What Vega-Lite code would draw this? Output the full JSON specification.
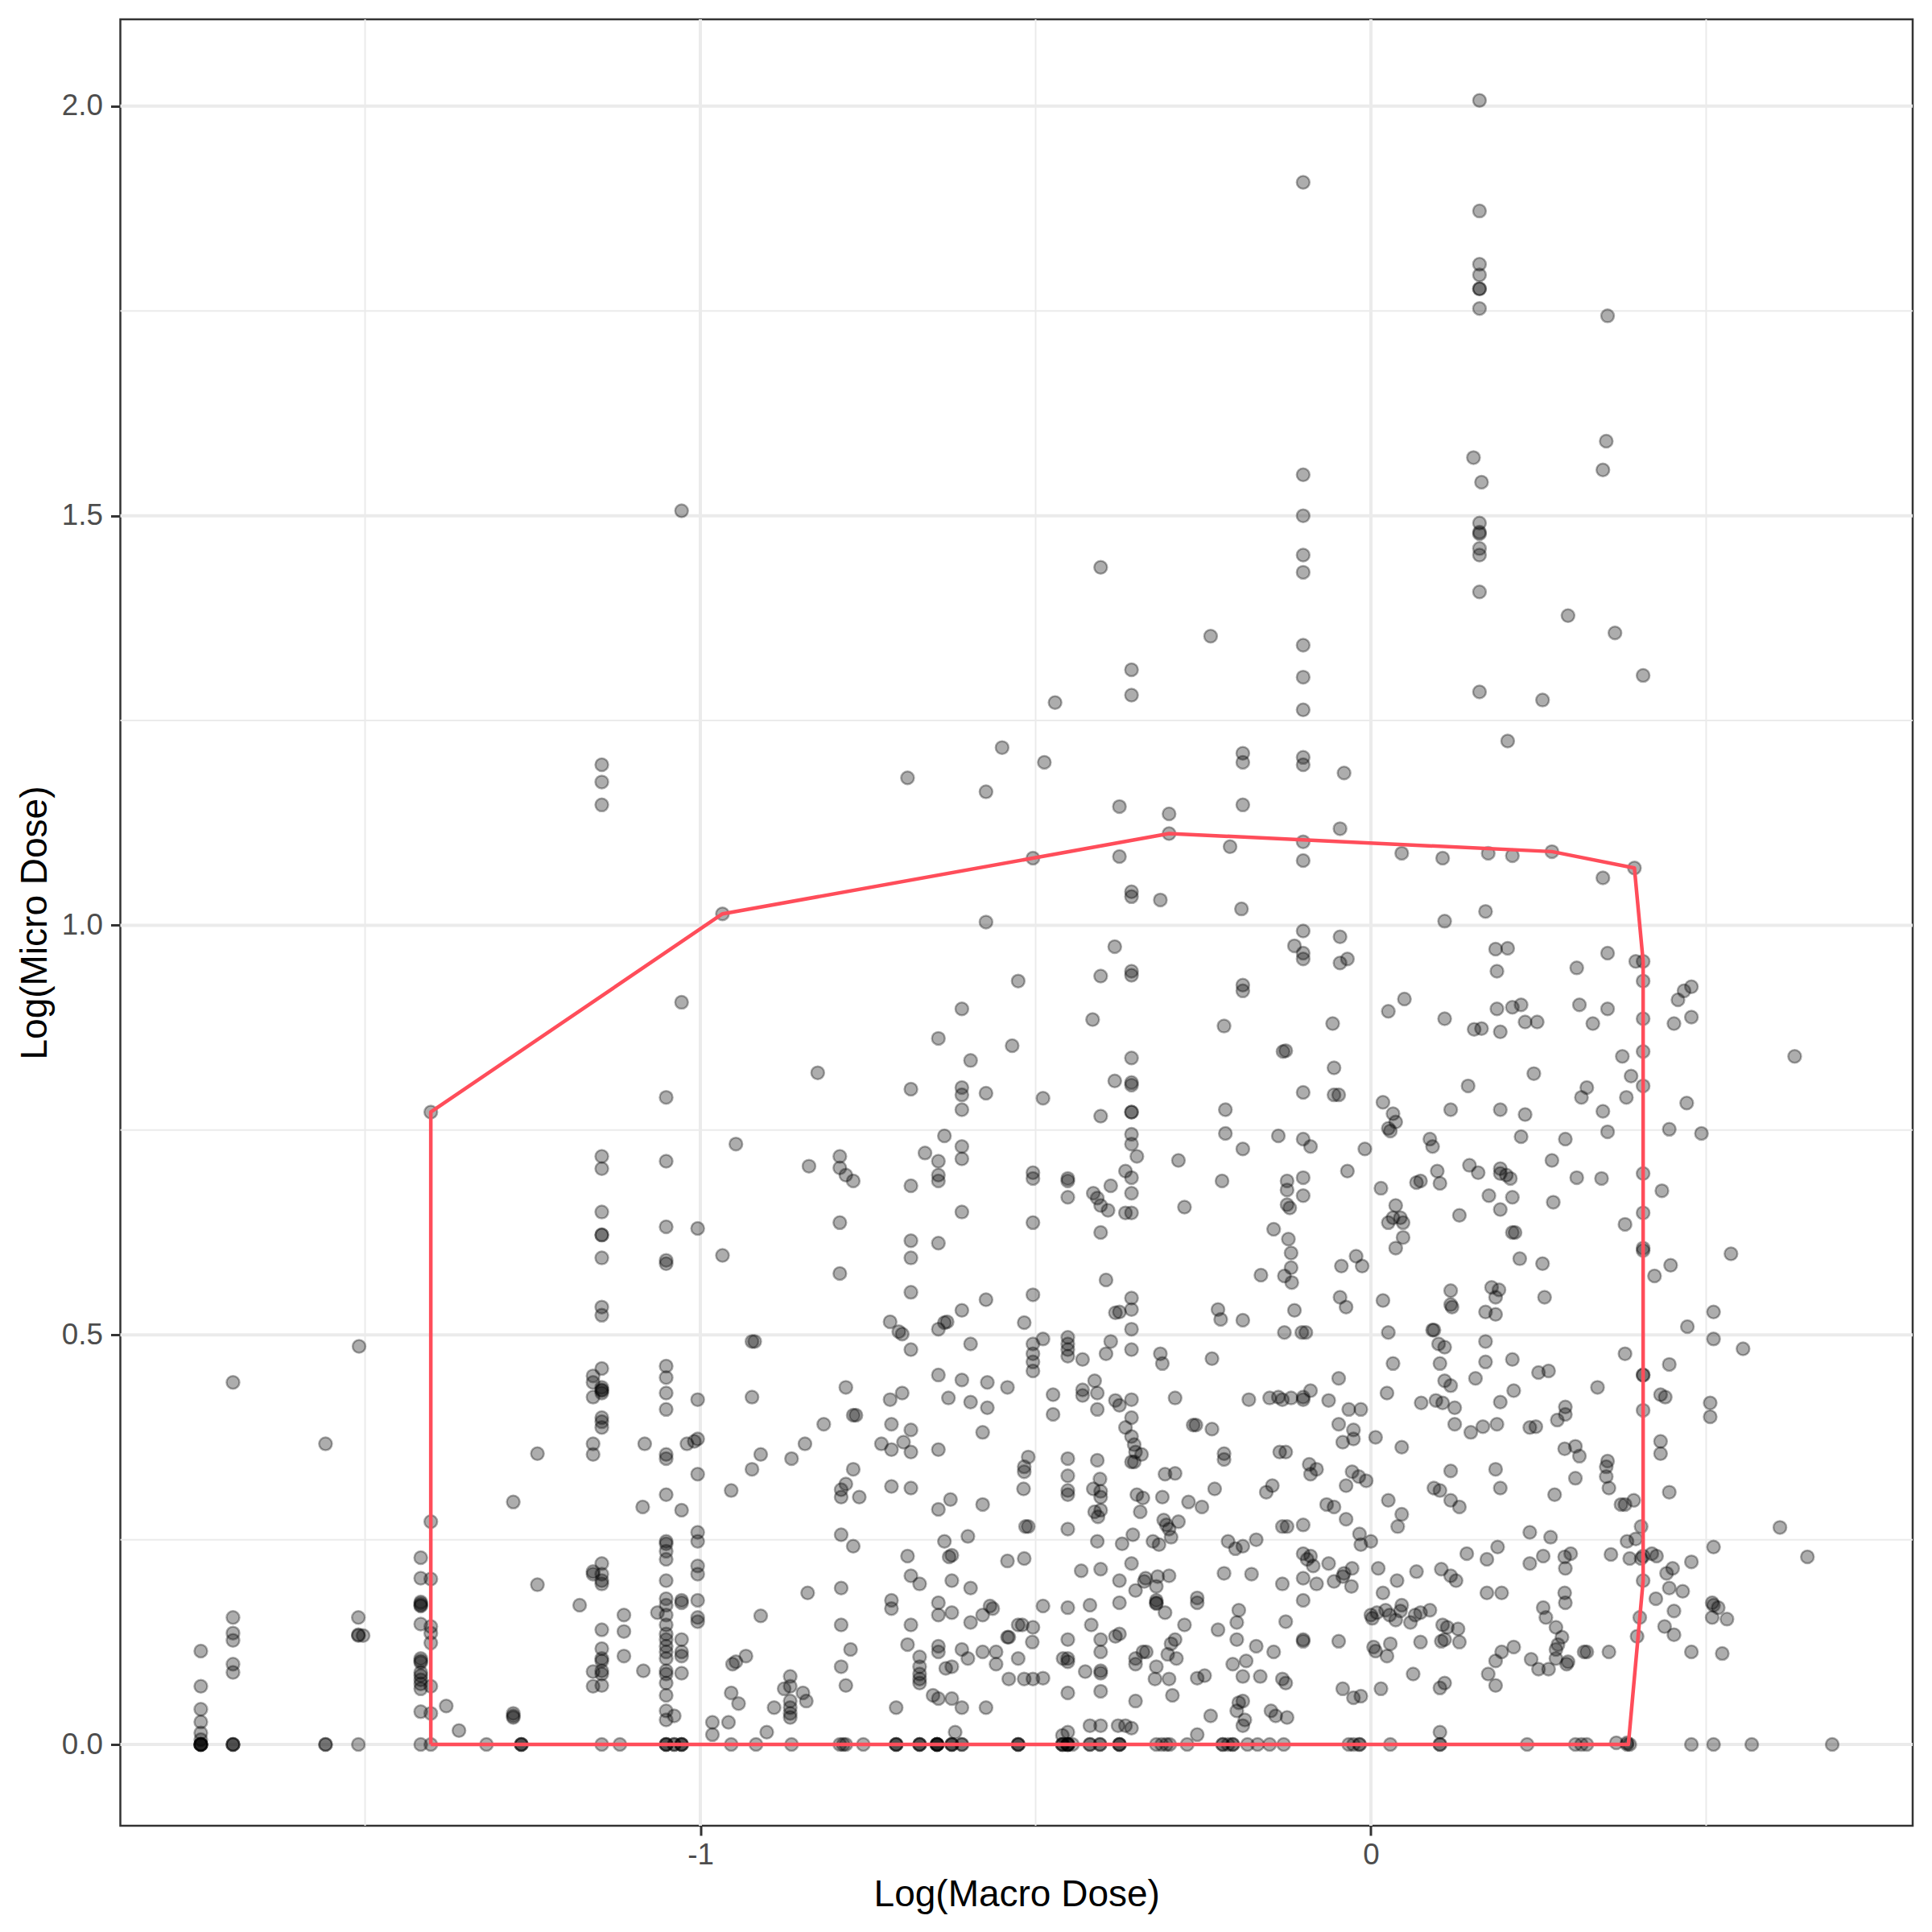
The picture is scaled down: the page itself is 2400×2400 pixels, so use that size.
{"$schema":"https://vega.github.io/schema/vega-lite/v6.json","autosize":"none","width":2226.5,"height":2244,"padding":{"left":149.5,"top":24,"right":24,"bottom":132},"background":"white","config":{"view":{"stroke":"#333333","strokeWidth":2.5},"font":"Liberation Sans"},
"datasets":{"gx":[{"v":-1.5,"k":"minor"},{"v":-1,"k":"major"},{"v":-0.5,"k":"minor"},{"v":0,"k":"major"},{"v":0.5,"k":"minor"}],
"gy":[{"v":0,"k":"major"},{"v":0.25,"k":"minor"},{"v":0.5,"k":"major"},{"v":0.75,"k":"minor"},{"v":1,"k":"major"},{"v":1.25,"k":"minor"},{"v":1.5,"k":"major"},{"v":1.75,"k":"minor"},{"v":2,"k":"major"}],
"hull":[{"x":-1.402,"y":0,"o":1},{"x":-1.402,"y":0.772,"o":2},{"x":-0.967,"y":1.014,"o":3},{"x":-0.504,"y":1.082,"o":4},{"x":-0.301,"y":1.112,"o":5},{"x":0.27,"y":1.09,"o":6},{"x":0.393,"y":1.07,"o":7},{"x":0.406,"y":0.956,"o":8},{"x":0.406,"y":0.2,"o":9},{"x":0.384,"y":0,"o":10},{"x":-1.402,"y":0,"o":11}],
"pts":[
{"x":-1.745,"y":0},{"x":-1.745,"y":0},{"x":-1.745,"y":0},{"x":-1.745,"y":0},{"x":-1.745,"y":0},{"x":-1.745,"y":0.006},{"x":-1.745,"y":0.014},{"x":-1.745,"y":0.0275},{"x":-1.745,"y":0.043},{"x":-1.745,"y":0.071},{"x":-1.745,"y":0.114},
{"x":-1.697,"y":0},{"x":-1.697,"y":0},{"x":-1.697,"y":0},{"x":-1.697,"y":0.088},{"x":-1.697,"y":0.098},{"x":-1.697,"y":0.127},{"x":-1.697,"y":0.136},{"x":-1.697,"y":0.155},{"x":-1.697,"y":0.442},
{"x":-1.559,"y":0},{"x":-1.559,"y":0},{"x":-1.559,"y":0.367},{"x":-1.51,"y":0},{"x":-1.51,"y":0.133},{"x":-1.51,"y":0.134},{"x":-1.503,"y":0.133},{"x":-1.51,"y":0.155},{"x":-1.509,"y":0.486},
{"x":-1.417,"y":0},{"x":-1.417,"y":0.04},{"x":-1.417,"y":0.068},{"x":-1.417,"y":0.074},{"x":-1.417,"y":0.079},{"x":-1.417,"y":0.084},{"x":-1.417,"y":0.088},{"x":-1.417,"y":0.1},{"x":-1.417,"y":0.102},{"x":-1.417,"y":0.105},{"x":-1.417,"y":0.147},{"x":-1.417,"y":0.169},{"x":-1.417,"y":0.17},{"x":-1.417,"y":0.172},{"x":-1.417,"y":0.174},{"x":-1.417,"y":0.203},{"x":-1.417,"y":0.228},
{"x":-1.402,"y":0},{"x":-1.402,"y":0.038},{"x":-1.402,"y":0.071},{"x":-1.402,"y":0.124},{"x":-1.402,"y":0.136},{"x":-1.402,"y":0.144},{"x":-1.402,"y":0.202},{"x":-1.402,"y":0.272},{"x":-1.402,"y":0.772},
{"x":-1.379,"y":0.047},{"x":-1.36,"y":0.017},{"x":-1.319,"y":0},{"x":-1.267,"y":0},{"x":-1.267,"y":0},{"x":-1.267,"y":0},{"x":-1.279,"y":0.033},{"x":-1.279,"y":0.035},{"x":-1.279,"y":0.038},{"x":-1.243,"y":0.195},{"x":-1.279,"y":0.296},{"x":-1.243,"y":0.355},{"x":-1.18,"y":0.17},
{"x":-1.147,"y":1.196},{"x":-1.147,"y":1.175},{"x":-1.147,"y":1.147},{"x":-1.147,"y":0},{"x":-1.147,"y":0.072},{"x":-1.147,"y":0.086},{"x":-1.147,"y":0.09},{"x":-1.147,"y":0.102},{"x":-1.147,"y":0.105},{"x":-1.147,"y":0.117},{"x":-1.147,"y":0.14},{"x":-1.147,"y":0.196},{"x":-1.147,"y":0.2},{"x":-1.147,"y":0.208},{"x":-1.147,"y":0.221},{"x":-1.147,"y":0.387},{"x":-1.147,"y":0.394},{"x":-1.147,"y":0.399},{"x":-1.147,"y":0.429},{"x":-1.147,"y":0.432},{"x":-1.147,"y":0.433},{"x":-1.147,"y":0.436},{"x":-1.147,"y":0.459},{"x":-1.147,"y":0.524},{"x":-1.147,"y":0.534},{"x":-1.147,"y":0.594},{"x":-1.147,"y":0.622},{"x":-1.147,"y":0.622},{"x":-1.147,"y":0.65},{"x":-1.147,"y":0.703},{"x":-1.147,"y":0.718},
{"x":-1.16,"y":0.211},{"x":-1.16,"y":0.45},{"x":-1.16,"y":0.442},{"x":-1.16,"y":0.424},{"x":-1.16,"y":0.354},{"x":-1.16,"y":0.367},{"x":-1.16,"y":0.089},{"x":-1.16,"y":0.071},{"x":-1.16,"y":0.208},
{"x":-1.12,"y":0},{"x":-1.114,"y":0.158},{"x":-1.114,"y":0.138},{"x":-1.114,"y":0.108},{"x":-1.085,"y":0.09},{"x":-1.086,"y":0.29},{"x":-1.083,"y":0.367},{"x":-1.064,"y":0.161},
{"x":-1.051,"y":0},{"x":-1.051,"y":0},{"x":-1.051,"y":0},{"x":-1.051,"y":0.03},{"x":-1.051,"y":0.041},{"x":-1.051,"y":0.06},{"x":-1.051,"y":0.075},{"x":-1.051,"y":0.086},{"x":-1.051,"y":0.09},{"x":-1.051,"y":0.105},{"x":-1.051,"y":0.113},{"x":-1.051,"y":0.12},{"x":-1.051,"y":0.128},{"x":-1.051,"y":0.135},{"x":-1.051,"y":0.146},{"x":-1.051,"y":0.158},{"x":-1.051,"y":0.17},{"x":-1.051,"y":0.178},{"x":-1.051,"y":0.2},{"x":-1.051,"y":0.226},{"x":-1.051,"y":0.236},{"x":-1.051,"y":0.245},{"x":-1.051,"y":0.248},{"x":-1.051,"y":0.305},{"x":-1.051,"y":0.349},{"x":-1.051,"y":0.354},{"x":-1.051,"y":0.409},{"x":-1.051,"y":0.429},{"x":-1.051,"y":0.448},{"x":-1.051,"y":0.462},{"x":-1.051,"y":0.587},{"x":-1.051,"y":0.591},{"x":-1.051,"y":0.632},{"x":-1.051,"y":0.712},{"x":-1.051,"y":0.79},
{"x":-1.039,"y":0.035},{"x":-1.039,"y":0},{"x":-1.039,"y":0},{"x":-1.028,"y":0},{"x":-1.028,"y":0},{"x":-1.028,"y":0},{"x":-1.028,"y":0.087},{"x":-1.028,"y":0.108},{"x":-1.028,"y":0.113},{"x":-1.028,"y":0.128},{"x":-1.028,"y":0.173},{"x":-1.028,"y":0.176},{"x":-1.028,"y":0.286},{"x":-1.028,"y":0.906},{"x":-1.028,"y":1.506},
{"x":-1.02,"y":0.367},{"x":-1.009,"y":0.37},{"x":-1.004,"y":0.373},{"x":-1.004,"y":0.15},{"x":-1.004,"y":0.155},{"x":-1.004,"y":0.176},{"x":-1.004,"y":0.208},{"x":-1.004,"y":0.218},{"x":-1.004,"y":0.248},{"x":-1.004,"y":0.259},{"x":-1.004,"y":0.33},{"x":-1.004,"y":0.421},{"x":-1.004,"y":0.63},
{"x":-0.967,"y":1.014},{"x":-0.967,"y":0.597},{"x":-0.947,"y":0.733},{"x":-0.982,"y":0.027},{"x":-0.982,"y":0.012},{"x":-0.954,"y":0},{"x":-0.958,"y":0.027},{"x":-0.952,"y":0.098},{"x":-0.947,"y":0.101},{"x":-0.954,"y":0.063},{"x":-0.943,"y":0.05},{"x":-0.954,"y":0.31},{"x":-0.932,"y":0.108},{"x":-0.917,"y":0},{"x":-0.919,"y":0.492},{"x":-0.923,"y":0.492},{"x":-0.923,"y":0.424},{"x":-0.923,"y":0.336},{"x":-0.91,"y":0.354},{"x":-0.91,"y":0.157},{"x":-0.901,"y":0.015},{"x":-0.89,"y":0.045},
{"x":-0.864,"y":0},{"x":-0.866,"y":0.083},{"x":-0.866,"y":0.071},{"x":-0.866,"y":0.053},{"x":-0.866,"y":0.045},{"x":-0.866,"y":0.038},{"x":-0.866,"y":0.033},{"x":-0.875,"y":0.068},{"x":-0.847,"y":0.063},{"x":-0.842,"y":0.053},{"x":-0.84,"y":0.185},{"x":-0.864,"y":0.349},{"x":-0.844,"y":0.367},{"x":-0.838,"y":0.706},{"x":-0.825,"y":0.82},{"x":-0.816,"y":0.391},{"x":-0.792,"y":0},{"x":-0.787,"y":0},{"x":-0.783,"y":0},{"x":-0.757,"y":0},
{"x":-0.79,"y":0.095},{"x":-0.783,"y":0.072},{"x":-0.776,"y":0.116},{"x":-0.79,"y":0.146},{"x":-0.79,"y":0.191},{"x":-0.79,"y":0.256},{"x":-0.772,"y":0.242},{"x":-0.79,"y":0.302},{"x":-0.79,"y":0.311},{"x":-0.783,"y":0.318},{"x":-0.772,"y":0.336},{"x":-0.763,"y":0.302},{"x":-0.772,"y":0.402},{"x":-0.768,"y":0.402},{"x":-0.783,"y":0.436},{"x":-0.792,"y":0.575},{"x":-0.792,"y":0.637},{"x":-0.792,"y":0.718},{"x":-0.792,"y":0.704},{"x":-0.783,"y":0.695},{"x":-0.772,"y":0.688},{"x":-0.691,"y":1.18},
{"x":-0.717,"y":0.516},{"x":-0.717,"y":0.421},{"x":-0.715,"y":0.391},{"x":-0.715,"y":0.36},{"x":-0.73,"y":0.367},{"x":-0.715,"y":0.315},{"x":-0.715,"y":0.176},{"x":-0.715,"y":0.166},{"x":-0.708,"y":0.045},{"x":-0.708,"y":0},{"x":-0.708,"y":0},{"x":-0.708,"y":0},
{"x":-0.699,"y":0.429},{"x":-0.699,"y":0.501},{"x":-0.704,"y":0.504},{"x":-0.686,"y":0.482},{"x":-0.686,"y":0.552},{"x":-0.686,"y":0.594},{"x":-0.686,"y":0.615},{"x":-0.686,"y":0.682},{"x":-0.686,"y":0.8},{"x":-0.686,"y":0.384},{"x":-0.697,"y":0.369},{"x":-0.686,"y":0.357},{"x":-0.686,"y":0.313},{"x":-0.691,"y":0.23},{"x":-0.686,"y":0.206},{"x":-0.686,"y":0.146},{"x":-0.691,"y":0.122},
{"x":-0.673,"y":0},{"x":-0.673,"y":0},{"x":-0.673,"y":0},{"x":-0.673,"y":0.196},{"x":-0.673,"y":0.107},{"x":-0.673,"y":0.095},{"x":-0.673,"y":0.086},{"x":-0.673,"y":0.08},{"x":-0.673,"y":0.075},
{"x":-0.665,"y":0.722},{"x":-0.653,"y":0.06},{"x":-0.647,"y":0},{"x":-0.647,"y":0},{"x":-0.647,"y":0},{"x":-0.647,"y":0},{"x":-0.647,"y":0},{"x":-0.645,"y":0.056},{"x":-0.645,"y":0.113},{"x":-0.645,"y":0.12},{"x":-0.645,"y":0.158},{"x":-0.645,"y":0.173},{"x":-0.645,"y":0.287},{"x":-0.645,"y":0.36},{"x":-0.645,"y":0.451},{"x":-0.645,"y":0.507},{"x":-0.645,"y":0.612},{"x":-0.645,"y":0.688},{"x":-0.645,"y":0.695},{"x":-0.645,"y":0.712},{"x":-0.645,"y":0.862},
{"x":-0.636,"y":0.248},{"x":-0.634,"y":0.093},{"x":-0.632,"y":0.516},{"x":-0.636,"y":0.515},{"x":-0.636,"y":0.743},{"x":-0.63,"y":0.423},{"x":-0.629,"y":0.229},{"x":-0.627,"y":0.299},{"x":-0.625,"y":0.231},{"x":-0.625,"y":0.2},{"x":-0.625,"y":0.161},{"x":-0.625,"y":0.095},{"x":-0.625,"y":0.056},{"x":-0.625,"y":0},{"x":-0.625,"y":0},{"x":-0.625,"y":0},{"x":-0.62,"y":0.015},{"x":-0.61,"y":0},{"x":-0.61,"y":0},
{"x":-0.61,"y":0.445},{"x":-0.61,"y":0.53},{"x":-0.61,"y":0.65},{"x":-0.61,"y":0.715},{"x":-0.61,"y":0.73},{"x":-0.61,"y":0.775},{"x":-0.61,"y":0.793},{"x":-0.61,"y":0.802},{"x":-0.61,"y":0.898},{"x":-0.597,"y":0.835},{"x":-0.601,"y":0.254},{"x":-0.597,"y":0.489},{"x":-0.61,"y":0.116},{"x":-0.61,"y":0.045},{"x":-0.601,"y":0.105},{"x":-0.597,"y":0.149},{"x":-0.597,"y":0.191},{"x":-0.597,"y":0.418},
{"x":-0.579,"y":0.381},{"x":-0.572,"y":0.411},{"x":-0.572,"y":0.442},{"x":-0.574,"y":0.543},{"x":-0.574,"y":0.795},{"x":-0.574,"y":1.004},{"x":-0.574,"y":1.163},{"x":-0.579,"y":0.293},{"x":-0.579,"y":0.158},{"x":-0.574,"y":0.045},{"x":-0.579,"y":0.113},{"x":-0.564,"y":0.166},{"x":-0.568,"y":0.169},{"x":-0.559,"y":0.098},{"x":-0.559,"y":0.113},
{"x":-0.55,"y":1.217},{"x":-0.542,"y":0.436},{"x":-0.542,"y":0.224},{"x":-0.535,"y":0.853},{"x":-0.526,"y":0},{"x":-0.526,"y":0},{"x":-0.526,"y":0},{"x":-0.526,"y":0.932},{"x":-0.54,"y":0.08},{"x":-0.54,"y":0.131},{"x":-0.542,"y":0.131},{"x":-0.526,"y":0.146},{"x":-0.526,"y":0.105},{"x":-0.517,"y":0.515},{"x":-0.517,"y":0.227},{"x":-0.515,"y":0.266},{"x":-0.511,"y":0.266},{"x":-0.517,"y":0.339},{"x":-0.517,"y":0.333},{"x":-0.518,"y":0.312},{"x":-0.511,"y":0.351},
{"x":-0.504,"y":1.082},{"x":-0.504,"y":0.549},{"x":-0.504,"y":0.637},{"x":-0.504,"y":0.691},{"x":-0.504,"y":0.698},{"x":-0.504,"y":0.489},{"x":-0.504,"y":0.477},{"x":-0.504,"y":0.467},{"x":-0.504,"y":0.456},{"x":-0.504,"y":0.143},{"x":-0.505,"y":0.125},{"x":-0.504,"y":0.08},{"x":-0.489,"y":0.081},{"x":-0.517,"y":0.08},{"x":-0.52,"y":0.146},
{"x":-0.489,"y":0.169},{"x":-0.489,"y":0.789},{"x":-0.487,"y":1.199},{"x":-0.489,"y":0.495},{"x":-0.474,"y":0.427},{"x":-0.471,"y":1.272},{"x":-0.474,"y":0.403},
{"x":-0.452,"y":0.497},{"x":-0.452,"y":0.489},{"x":-0.452,"y":0.482},{"x":-0.452,"y":0.474},{"x":-0.452,"y":0.349},{"x":-0.452,"y":0.328},{"x":-0.452,"y":0.305},{"x":-0.452,"y":0.31},{"x":-0.452,"y":0.263},{"x":-0.452,"y":0.688},{"x":-0.452,"y":0.691},{"x":-0.452,"y":0.668},{"x":-0.452,"y":0.167},{"x":-0.452,"y":0.128},{"x":-0.452,"y":0.105},{"x":-0.452,"y":0.101},{"x":-0.452,"y":0.063},{"x":-0.452,"y":0.015},{"x":-0.452,"y":0},{"x":-0.452,"y":0},{"x":-0.452,"y":0},{"x":-0.452,"y":0},{"x":-0.46,"y":0},{"x":-0.46,"y":0},{"x":-0.46,"y":0},{"x":-0.445,"y":0},{"x":-0.46,"y":0.011},{"x":-0.459,"y":0.105},
{"x":-0.419,"y":0},{"x":-0.419,"y":0},{"x":-0.419,"y":0.023},{"x":-0.419,"y":0.17},{"x":-0.417,"y":0.146},{"x":-0.43,"y":0.433},{"x":-0.43,"y":0.426},{"x":-0.43,"y":0.47},{"x":-0.432,"y":0.212},{"x":-0.426,"y":0.089},{"x":-0.412,"y":0.444},
{"x":-0.404,"y":0},{"x":-0.404,"y":0},{"x":-0.403,"y":1.437},{"x":-0.415,"y":0.885},{"x":-0.408,"y":0.429},{"x":-0.408,"y":0.409},{"x":-0.414,"y":0.312},{"x":-0.403,"y":0.309},{"x":-0.403,"y":0.302},{"x":-0.403,"y":0.286},{"x":-0.404,"y":0.324},{"x":-0.403,"y":0.113},{"x":-0.403,"y":0.09},{"x":-0.403,"y":0.087},{"x":-0.403,"y":0.065},{"x":-0.403,"y":0.023},{"x":-0.403,"y":0.128},{"x":-0.414,"y":0.673},{"x":-0.408,"y":0.667},{"x":-0.403,"y":0.658},{"x":-0.403,"y":0.625},{"x":-0.403,"y":0.938},{"x":-0.403,"y":0.767},{"x":-0.392,"y":0.652},{"x":-0.395,"y":0.567},{"x":-0.388,"y":0.682},{"x":-0.395,"y":0.477},{"x":-0.388,"y":0.492},{"x":-0.408,"y":0.347},{"x":-0.408,"y":0.248},{"x":-0.403,"y":0.214},{"x":-0.407,"y":0.278},{"x":-0.412,"y":0.284},
{"x":-0.381,"y":0.42},{"x":-0.375,"y":0.414},{"x":-0.381,"y":0.527},{"x":-0.375,"y":0.528},{"x":-0.375,"y":0},{"x":-0.375,"y":0},{"x":-0.375,"y":0},{"x":-0.375,"y":0.135},{"x":-0.381,"y":0.132},{"x":-0.371,"y":0.245},{"x":-0.375,"y":0.2},{"x":-0.375,"y":0.173},{"x":-0.377,"y":0.023},{"x":-0.375,"y":1.145},{"x":-0.375,"y":1.084},{"x":-0.382,"y":0.974},{"x":-0.382,"y":0.81},{"x":-0.366,"y":0.7},
{"x":-0.357,"y":1.312},{"x":-0.357,"y":1.281},{"x":-0.357,"y":1.041},{"x":-0.357,"y":1.035},{"x":-0.357,"y":0.944},{"x":-0.357,"y":0.939},{"x":-0.357,"y":0.838},{"x":-0.357,"y":0.808},{"x":-0.357,"y":0.805},{"x":-0.357,"y":0.772},{"x":-0.357,"y":0.772},{"x":-0.357,"y":0.745},{"x":-0.357,"y":0.733},{"x":-0.349,"y":0.718},{"x":-0.357,"y":0.692},{"x":-0.357,"y":0.673},{"x":-0.357,"y":0.649},{"x":-0.366,"y":0.649},{"x":-0.357,"y":0.545},{"x":-0.357,"y":0.531},{"x":-0.357,"y":0.507},{"x":-0.357,"y":0.482},{"x":-0.357,"y":0.399},{"x":-0.366,"y":0.387},{"x":-0.357,"y":0.376},{"x":-0.353,"y":0.366},{"x":-0.351,"y":0.357},{"x":-0.357,"y":0.345},{"x":-0.353,"y":0.345},{"x":-0.342,"y":0.354},{"x":-0.357,"y":0.421},{"x":-0.349,"y":0.305},{"x":-0.344,"y":0.284},{"x":-0.355,"y":0.256},{"x":-0.357,"y":0.221},{"x":-0.351,"y":0.188},{"x":-0.351,"y":0.098},{"x":-0.351,"y":0.053},{"x":-0.357,"y":0.02},{"x":-0.366,"y":0.023},{"x":-0.351,"y":0.105},
{"x":-0.314,"y":1.031},{"x":-0.301,"y":1.136},{"x":-0.301,"y":1.112},{"x":-0.287,"y":0.713},{"x":-0.278,"y":0.656},{"x":-0.239,"y":1.353},{"x":-0.21,"y":1.096},{"x":-0.314,"y":0.477},{"x":-0.311,"y":0.465},{"x":-0.292,"y":0.423},{"x":-0.265,"y":0.39},{"x":-0.261,"y":0.39},{"x":-0.237,"y":0.385},{"x":-0.237,"y":0.471},{"x":-0.219,"y":0.355},
{"x":-0.34,"y":0.301},{"x":-0.307,"y":0.33},{"x":-0.292,"y":0.331},{"x":-0.311,"y":0.302},{"x":-0.325,"y":0.248},{"x":-0.316,"y":0.244},{"x":-0.309,"y":0.274},{"x":-0.305,"y":0.268},{"x":-0.301,"y":0.263},{"x":-0.287,"y":0.272},{"x":-0.298,"y":0.253},{"x":-0.272,"y":0.296},{"x":-0.252,"y":0.29},{"x":-0.233,"y":0.312},{"x":-0.219,"y":0.348},
{"x":-0.336,"y":0.203},{"x":-0.318,"y":0.205},{"x":-0.32,"y":0.176},{"x":-0.32,"y":0.173},{"x":-0.32,"y":0.172},{"x":-0.338,"y":0.199},{"x":-0.32,"y":0.193},{"x":-0.301,"y":0.206},{"x":-0.307,"y":0.161},{"x":-0.292,"y":0.128},{"x":-0.298,"y":0.123},{"x":-0.303,"y":0.11},{"x":-0.335,"y":0.113},{"x":-0.34,"y":0.113},{"x":-0.32,"y":0.095},{"x":-0.322,"y":0.08},{"x":-0.29,"y":0.105},{"x":-0.259,"y":0.179},{"x":-0.259,"y":0.173},{"x":-0.278,"y":0.146},{"x":-0.259,"y":0.081},{"x":-0.248,"y":0.084},{"x":-0.296,"y":0.06},{"x":-0.301,"y":0.08},
{"x":-0.32,"y":0},{"x":-0.312,"y":0},{"x":-0.305,"y":0},{"x":-0.3,"y":0},{"x":-0.274,"y":0},{"x":-0.259,"y":0.012},{"x":-0.239,"y":0.035},{"x":-0.221,"y":0},{"x":-0.221,"y":0},{"x":-0.213,"y":0},{"x":-0.206,"y":0},{"x":-0.206,"y":0},{"x":-0.184,"y":0},{"x":-0.169,"y":0},{"x":-0.151,"y":0},{"x":-0.13,"y":0},
{"x":-0.228,"y":0.14},{"x":-0.219,"y":0.209},{"x":-0.213,"y":0.248},{"x":-0.202,"y":0.239},{"x":-0.191,"y":0.242},{"x":-0.171,"y":0.25},{"x":-0.178,"y":0.208},{"x":-0.2,"y":0.149},{"x":-0.2,"y":0.128},{"x":-0.197,"y":0.164},{"x":-0.206,"y":0.098},{"x":-0.191,"y":0.083},{"x":-0.171,"y":0.12},{"x":-0.165,"y":0.083},{"x":-0.186,"y":0.102},{"x":-0.191,"y":0.053},{"x":-0.197,"y":0.051},{"x":-0.188,"y":0.03},{"x":-0.191,"y":0.023},{"x":-0.2,"y":0.041},{"x":-0.149,"y":0.041},{"x":-0.142,"y":0.035},{"x":-0.125,"y":0.033},{"x":-0.132,"y":0.08},{"x":-0.127,"y":0.075},{"x":-0.145,"y":0.113},{"x":-0.132,"y":0.196},{"x":-0.127,"y":0.15},
{"x":-0.182,"y":0.421},{"x":-0.151,"y":0.423},{"x":-0.138,"y":0.424},{"x":-0.132,"y":0.421},{"x":-0.119,"y":0.423},{"x":-0.136,"y":0.357},{"x":-0.127,"y":0.357},{"x":-0.156,"y":0.308},{"x":-0.147,"y":0.316},{"x":-0.132,"y":0.266},{"x":-0.125,"y":0.266},
{"x":-0.224,"y":0.519},{"x":-0.228,"y":0.531},{"x":-0.191,"y":0.518},{"x":-0.164,"y":0.573},{"x":-0.145,"y":0.629},{"x":-0.123,"y":0.617},{"x":-0.119,"y":0.6},{"x":-0.119,"y":0.582},{"x":-0.129,"y":0.572},{"x":-0.118,"y":0.564},{"x":-0.129,"y":0.503},{"x":-0.103,"y":0.503},{"x":-0.097,"y":0.503},{"x":-0.114,"y":0.53},{"x":-0.222,"y":0.688},{"x":-0.217,"y":0.746},{"x":-0.217,"y":0.775},{"x":-0.191,"y":0.727},{"x":-0.219,"y":0.877},{"x":-0.191,"y":0.927},{"x":-0.191,"y":0.92},{"x":-0.193,"y":1.02},{"x":-0.191,"y":1.147},{"x":-0.191,"y":1.199},{"x":-0.191,"y":1.21},
{"x":-0.138,"y":0.743},{"x":-0.131,"y":0.846},{"x":-0.127,"y":0.847},{"x":-0.125,"y":0.688},{"x":-0.125,"y":0.677},{"x":-0.125,"y":0.659},{"x":-0.121,"y":0.655},
{"x":-0.101,"y":1.907},{"x":-0.101,"y":1.55},{"x":-0.101,"y":1.5},{"x":-0.101,"y":1.452},{"x":-0.101,"y":1.431},{"x":-0.101,"y":1.342},{"x":-0.101,"y":1.303},{"x":-0.101,"y":1.263},{"x":-0.101,"y":1.205},{"x":-0.101,"y":1.196},{"x":-0.101,"y":1.102},{"x":-0.101,"y":1.079},{"x":-0.101,"y":0.993},{"x":-0.101,"y":0.966},{"x":-0.101,"y":0.959},{"x":-0.101,"y":0.796},{"x":-0.101,"y":0.739},{"x":-0.101,"y":0.692},{"x":-0.101,"y":0.67},{"x":-0.101,"y":0.421},{"x":-0.114,"y":0.975},{"x":-0.09,"y":0.73},{"x":-0.09,"y":0.432},{"x":-0.101,"y":0.424},{"x":-0.101,"y":0.233},{"x":-0.101,"y":0.203},{"x":-0.101,"y":0.176},{"x":-0.101,"y":0.128},{"x":-0.101,"y":0.126},{"x":-0.101,"y":0.268},{"x":-0.092,"y":0.342},{"x":-0.09,"y":0.33},{"x":-0.081,"y":0.336},{"x":-0.09,"y":0.23},{"x":-0.086,"y":0.218},{"x":-0.081,"y":0.196},{"x":-0.095,"y":0.226},
{"x":-0.066,"y":0.293},{"x":-0.055,"y":0.29},{"x":-0.037,"y":0.275},{"x":-0.063,"y":0.221},{"x":-0.055,"y":0.199},{"x":-0.04,"y":0.209},{"x":-0.042,"y":0.369},{"x":-0.048,"y":0.391},{"x":-0.033,"y":0.409},{"x":-0.015,"y":0.409},{"x":-0.063,"y":0.42},{"x":-0.048,"y":0.447},{"x":-0.026,"y":0.384},{"x":-0.026,"y":0.373},{"x":-0.028,"y":0.333},{"x":-0.018,"y":0.327},{"x":-0.037,"y":0.316},{"x":-0.007,"y":0.322},{"x":0.007,"y":0.375},
{"x":-0.048,"y":0.126},{"x":-0.042,"y":0.068},{"x":-0.026,"y":0.057},{"x":-0.015,"y":0.059},{"x":0.004,"y":0.119},{"x":0.007,"y":0.114},{"x":0,"y":0.158},{"x":0.002,"y":0.154},{"x":0.011,"y":0.215},{"x":-0.029,"y":0.193},{"x":-0.042,"y":0.205},{"x":-0.015,"y":0.244},{"x":-0.028,"y":0.215},{"x":0,"y":0.248},{"x":-0.017,"y":0.257},
{"x":-0.033,"y":0},{"x":-0.026,"y":0},{"x":-0.017,"y":0},{"x":-0.017,"y":0},{"x":0.029,"y":0},{"x":0.103,"y":0},{"x":0.103,"y":0},{"x":0.103,"y":0.015},{"x":0.233,"y":0},{"x":0.305,"y":0},{"x":0.314,"y":0},{"x":0.322,"y":0},{"x":0.366,"y":0.002},{"x":0.382,"y":0.002},{"x":0.382,"y":0},{"x":0.386,"y":0},{"x":0.478,"y":0},{"x":0.511,"y":0},{"x":0.568,"y":0},{"x":0.688,"y":0},
{"x":-0.04,"y":1.186},{"x":-0.046,"y":1.118},{"x":-0.046,"y":0.986},{"x":-0.035,"y":0.959},{"x":-0.046,"y":0.954},{"x":-0.057,"y":0.88},{"x":-0.055,"y":0.826},{"x":-0.055,"y":0.793},{"x":-0.048,"y":0.793},{"x":-0.035,"y":0.7},{"x":-0.044,"y":0.584},{"x":-0.022,"y":0.596},{"x":-0.013,"y":0.584},{"x":-0.046,"y":0.546},{"x":-0.037,"y":0.534},{"x":-0.009,"y":0.727},
{"x":0.015,"y":0.679},{"x":0.018,"y":0.542},{"x":0.026,"y":0.503},{"x":0.033,"y":0.465},{"x":0.024,"y":0.429},{"x":0.046,"y":0.363},{"x":0.026,"y":0.298},{"x":0.046,"y":0.281},{"x":0.04,"y":0.266},{"x":0.026,"y":0.895},{"x":0.026,"y":0.752},{"x":0.029,"y":0.749},{"x":0.037,"y":0.76},{"x":0.018,"y":0.784},{"x":0.033,"y":0.77},{"x":0.037,"y":0.658},{"x":0.033,"y":0.643},{"x":0.026,"y":0.637},{"x":0.044,"y":0.643},{"x":0.048,"y":0.637},{"x":0.037,"y":0.606},{"x":0.048,"y":0.619},{"x":0.046,"y":1.088},{"x":0.05,"y":0.91},
{"x":0.068,"y":0.686},{"x":0.074,"y":0.688},{"x":0.088,"y":0.739},{"x":0.092,"y":0.73},{"x":0.099,"y":0.7},{"x":0.103,"y":0.685},{"x":0.107,"y":1.082},{"x":0.11,"y":1.005},{"x":0.11,"y":0.886},{"x":0.119,"y":0.775},{"x":0.145,"y":0.804},{"x":0.147,"y":0.707},{"x":0.16,"y":0.698},{"x":0.132,"y":0.646},{"x":0.092,"y":0.506},{"x":0.094,"y":0.506},{"x":0.101,"y":0.489},{"x":0.11,"y":0.485},{"x":0.103,"y":0.465},{"x":0.11,"y":0.444},{"x":0.119,"y":0.554},{"x":0.119,"y":0.537},{"x":0.121,"y":0.534},{"x":0.171,"y":0.528},{"x":0.18,"y":0.558},{"x":0.191,"y":0.555},{"x":0.186,"y":0.546},{"x":0.186,"y":0.525},{"x":0.171,"y":0.492},{"x":0.171,"y":0.467},{"x":0.156,"y":0.447},{"x":0.211,"y":0.47},{"x":0.193,"y":0.418},{"x":0.213,"y":0.432},{"x":0.075,"y":0.417},{"x":0.097,"y":0.42},{"x":0.107,"y":0.417},{"x":0.119,"y":0.438},{"x":0.125,"y":0.411},{"x":0.149,"y":0.381},{"x":0.167,"y":0.388},{"x":0.188,"y":0.391},{"x":0.125,"y":0.391},
{"x":0.094,"y":0.313},{"x":0.103,"y":0.31},{"x":0.119,"y":0.334},{"x":0.119,"y":0.298},{"x":0.132,"y":0.29},{"x":0.186,"y":0.336},{"x":0.193,"y":0.313},{"x":0.143,"y":0.233},{"x":0.119,"y":0.206},{"x":0.127,"y":0.2},{"x":0.105,"y":0.214},{"x":0.068,"y":0.211},{"x":0.046,"y":0.17},{"x":0.039,"y":0.2},{"x":0.018,"y":0.185},{"x":0.022,"y":0.164},{"x":0.044,"y":0.163},{"x":0.066,"y":0.158},{"x":0.074,"y":0.161},{"x":0.088,"y":0.164},{"x":0.009,"y":0.161},{"x":0.028,"y":0.158},{"x":0.037,"y":0.152},{"x":0.059,"y":0.149},{"x":0.107,"y":0.146},{"x":0.114,"y":0.143},{"x":0.13,"y":0.141},{"x":0.105,"y":0.126},{"x":0.11,"y":0.128},{"x":0.132,"y":0.125},{"x":0.074,"y":0.125},{"x":0.029,"y":0.123},{"x":0.024,"y":0.108},{"x":0.063,"y":0.086},{"x":0.015,"y":0.068},{"x":0.11,"y":0.075},{"x":0.103,"y":0.069},{"x":0.186,"y":0.072},{"x":0.175,"y":0.086},{"x":0.186,"y":0.102},{"x":0.195,"y":0.113},{"x":0.213,"y":0.119},{"x":0.173,"y":0.185},{"x":0.173,"y":0.226},{"x":0.189,"y":0.241},{"x":0.195,"y":0.185},{"x":0.237,"y":0.259},{"x":0.237,"y":0.221},{"x":0.257,"y":0.23},{"x":0.268,"y":0.253},{"x":0.257,"y":0.167},{"x":0.289,"y":0.229},{"x":0.298,"y":0.233},{"x":0.29,"y":0.215},{"x":0.289,"y":0.185},{"x":0.29,"y":0.173},{"x":0.261,"y":0.155},{"x":0.276,"y":0.143},{"x":0.279,"y":0.122},{"x":0.285,"y":0.131},{"x":0.239,"y":0.104},{"x":0.25,"y":0.092},{"x":0.265,"y":0.092},{"x":0.276,"y":0.105},{"x":0.292,"y":0.098},{"x":0.294,"y":0.101},{"x":0.276,"y":0.116},
{"x":0.162,"y":2.007},{"x":0.162,"y":1.872},{"x":0.162,"y":1.807},{"x":0.162,"y":1.794},{"x":0.162,"y":1.777},{"x":0.162,"y":1.777},{"x":0.162,"y":1.753},{"x":0.153,"y":1.571},{"x":0.165,"y":1.541},{"x":0.162,"y":1.491},{"x":0.162,"y":1.48},{"x":0.162,"y":1.478},{"x":0.162,"y":1.46},{"x":0.162,"y":1.452},{"x":0.162,"y":1.407},{"x":0.162,"y":1.285},
{"x":0.353,"y":1.744},{"x":0.351,"y":1.591},{"x":0.346,"y":1.556},{"x":0.294,"y":1.378},{"x":0.364,"y":1.357},{"x":0.406,"y":1.305},{"x":0.256,"y":1.275},{"x":0.204,"y":1.225},{"x":0.27,"y":1.09},{"x":0.175,"y":1.088},{"x":0.211,"y":1.085},{"x":0.393,"y":1.07},{"x":0.346,"y":1.058},{"x":0.171,"y":1.017},
{"x":0.186,"y":0.971},{"x":0.204,"y":0.972},{"x":0.307,"y":0.948},{"x":0.353,"y":0.966},{"x":0.395,"y":0.956},{"x":0.406,"y":0.956},{"x":0.406,"y":0.932},{"x":0.406,"y":0.886},{"x":0.406,"y":0.846},{"x":0.406,"y":0.804},{"x":0.406,"y":0.697},{"x":0.406,"y":0.649},{"x":0.406,"y":0.606},{"x":0.406,"y":0.603},{"x":0.406,"y":0.451},{"x":0.406,"y":0.451},{"x":0.406,"y":0.408},{"x":0.406,"y":0.2},{"x":0.406,"y":0.23},{"x":0.403,"y":0.266},{"x":0.392,"y":0.298},{"x":0.379,"y":0.293},{"x":0.379,"y":0.477},
{"x":0.154,"y":0.873},{"x":0.165,"y":0.874},{"x":0.193,"y":0.87},{"x":0.188,"y":0.944},{"x":0.188,"y":0.898},{"x":0.211,"y":0.9},{"x":0.224,"y":0.903},{"x":0.23,"y":0.882},{"x":0.248,"y":0.882},{"x":0.243,"y":0.819},{"x":0.23,"y":0.769},{"x":0.224,"y":0.742},{"x":0.193,"y":0.775},{"x":0.193,"y":0.703},{"x":0.193,"y":0.697},{"x":0.202,"y":0.695},{"x":0.208,"y":0.691},{"x":0.176,"y":0.67},{"x":0.193,"y":0.653},{"x":0.211,"y":0.668},{"x":0.211,"y":0.625},{"x":0.215,"y":0.625},{"x":0.222,"y":0.593},{"x":0.256,"y":0.587},{"x":0.259,"y":0.546},{"x":0.272,"y":0.662},{"x":0.27,"y":0.713},{"x":0.29,"y":0.739},{"x":0.307,"y":0.692},{"x":0.344,"y":0.691},{"x":0.311,"y":0.903},{"x":0.331,"y":0.88},{"x":0.353,"y":0.898},{"x":0.314,"y":0.79},{"x":0.322,"y":0.802},{"x":0.346,"y":0.773},{"x":0.353,"y":0.748},{"x":0.375,"y":0.84},{"x":0.381,"y":0.79},{"x":0.388,"y":0.816},
{"x":0.379,"y":0.635},{"x":0.423,"y":0.572},{"x":0.434,"y":0.676},{"x":0.447,"y":0.585},{"x":0.445,"y":0.751},{"x":0.452,"y":0.88},{"x":0.458,"y":0.909},{"x":0.467,"y":0.92},{"x":0.478,"y":0.925},{"x":0.478,"y":0.888},{"x":0.471,"y":0.783},{"x":0.493,"y":0.746},{"x":0.472,"y":0.51},{"x":0.445,"y":0.464},{"x":0.432,"y":0.427},{"x":0.439,"y":0.424},{"x":0.432,"y":0.37},{"x":0.432,"y":0.355},{"x":0.445,"y":0.308},{"x":0.537,"y":0.599},{"x":0.511,"y":0.528},{"x":0.511,"y":0.495},{"x":0.555,"y":0.483},{"x":0.506,"y":0.417},{"x":0.506,"y":0.4},{"x":0.511,"y":0.241},{"x":0.61,"y":0.265},{"x":0.651,"y":0.229},{"x":0.632,"y":0.84},
{"x":0.338,"y":0.436},{"x":0.305,"y":0.364},{"x":0.305,"y":0.325},{"x":0.311,"y":0.352},{"x":0.29,"y":0.403},{"x":0.278,"y":0.396},{"x":0.29,"y":0.412},{"x":0.25,"y":0.454},{"x":0.265,"y":0.456},{"x":0.246,"y":0.388},{"x":0.274,"y":0.305},{"x":0.289,"y":0.361},{"x":0.237,"y":0.387},
{"x":0.351,"y":0.339},{"x":0.351,"y":0.327},{"x":0.355,"y":0.313},{"x":0.353,"y":0.346},{"x":0.373,"y":0.293},{"x":0.382,"y":0.248},{"x":0.395,"y":0.251},{"x":0.358,"y":0.232},{"x":0.386,"y":0.227},{"x":0.419,"y":0.233},{"x":0.426,"y":0.23},{"x":0.403,"y":0.227},{"x":0.441,"y":0.209},{"x":0.45,"y":0.215},{"x":0.478,"y":0.223},{"x":0.445,"y":0.191},{"x":0.465,"y":0.187},{"x":0.452,"y":0.163},{"x":0.509,"y":0.173},{"x":0.511,"y":0.17},{"x":0.518,"y":0.167},{"x":0.509,"y":0.155},{"x":0.531,"y":0.153},{"x":0.524,"y":0.111},{"x":0.478,"y":0.113},{"x":0.452,"y":0.134},{"x":0.438,"y":0.144},{"x":0.425,"y":0.178},{"x":0.401,"y":0.155},{"x":0.397,"y":0.132},{"x":0.355,"y":0.113},{"x":0.318,"y":0.113},{"x":0.322,"y":0.113}
]},
"layer":[
{"data":{"name":"gx"},"mark":{"type":"rule","color":"#ebebeb"},"encoding":{"x":{"field":"v","type":"quantitative","scale":{"domain":[-1.865,0.808],"nice":false,"zero":false},"title":"Log(Macro Dose)","axis":{"values":[-1,0],"labelExpr":"datum.value == -1 ? '-1' : '0'","grid":false,"domain":false,"tickColor":"#333333","tickWidth":3,"tickSize":12,"labelFont":"Liberation Sans","labelFontSize":36.8,"labelColor":"#4d4d4d","labelPadding":6,"titleFont":"Liberation Sans","titleFontSize":46,"titleFontWeight":"normal","titleColor":"#000000","titleBaseline":"middle","titleY":85}},"strokeWidth":{"field":"k","type":"nominal","scale":{"domain":["major","minor"],"range":[4,2]},"legend":null}}},
{"data":{"name":"gy"},"mark":{"type":"rule","color":"#ebebeb"},"encoding":{"y":{"field":"v","type":"quantitative","scale":{"domain":[-0.0992,2.106],"nice":false,"zero":false},"title":"Log(Micro Dose)","axis":{"values":[0,0.5,1,1.5,2],"format":".1f","grid":false,"domain":false,"tickColor":"#333333","tickWidth":3,"tickSize":12,"labelFont":"Liberation Sans","labelFontSize":36.8,"labelColor":"#4d4d4d","labelPadding":10,"titleFont":"Liberation Sans","titleFontSize":46,"titleFontWeight":"normal","titleColor":"#000000","titleBaseline":"middle","titleX":-106}},"strokeWidth":{"field":"k","type":"nominal","scale":{"domain":["major","minor"],"range":[4,2]},"legend":null}}},
{"data":{"name":"pts"},"mark":{"type":"point","shape":"circle","filled":true,"fill":"#000000","fillOpacity":0.32,"stroke":"#000000","strokeOpacity":0.32,"strokeWidth":2.5,"size":256},"encoding":{"x":{"field":"x","type":"quantitative"},"y":{"field":"y","type":"quantitative"}}},
{"data":{"name":"hull"},"mark":{"type":"line","color":"#FF4D5A","strokeWidth":4.5,"strokeJoin":"round"},"encoding":{"x":{"field":"x","type":"quantitative"},"y":{"field":"y","type":"quantitative"},"order":{"field":"o","type":"quantitative"}}}
]}
